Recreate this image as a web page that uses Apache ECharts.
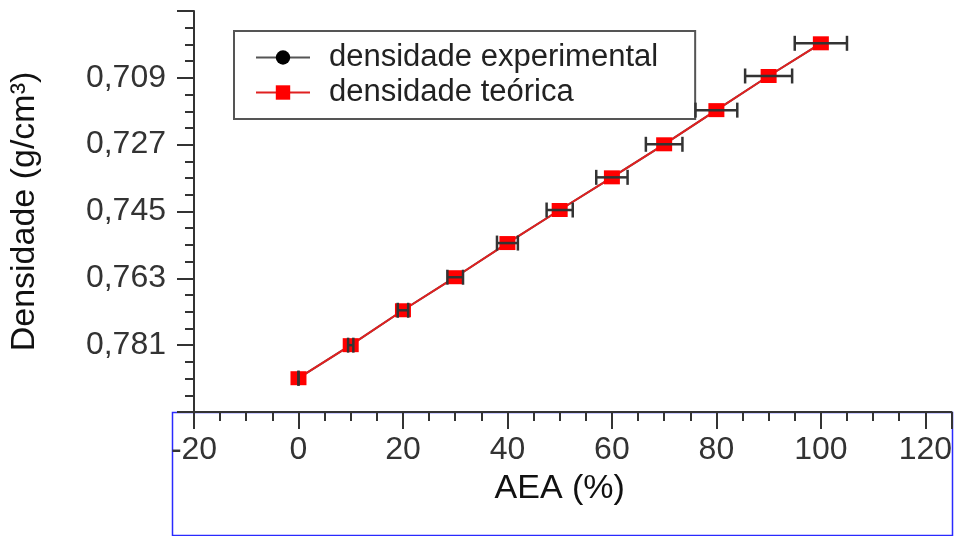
<!DOCTYPE html>
<html><head><meta charset="utf-8">
<script src="https://cdn.jsdelivr.net/npm/echarts@6/dist/echarts.min.js"></script>
<style>html,body{margin:0;padding:0;background:#fff}#c{width:955px;height:536px}</style>
</head><body><div id="c"></div>
<script>
const aea = [0, 10, 20, 30, 40, 50, 60, 70, 80, 90, 100];
const densExp = [0.7899, 0.7810, 0.7716, 0.7627, 0.7535, 0.7446, 0.7358, 0.7269, 0.7177, 0.7085, 0.6997];
const densTeo = [0.7899, 0.7810, 0.7716, 0.7627, 0.7535, 0.7446, 0.7358, 0.7269, 0.7177, 0.7085, 0.6997];
const aeaErr = [0, 0.5, 1, 1.5, 2, 2.5, 3, 3.5, 4, 4.5, 5];
const seriesNames = ['densidade experimental', 'densidade teórica'];
const yMin = 0.691, yMax = 0.799, yStep = 0.018;
const xMin = -20, xMax = 125, xStep = 20;

const FONT = 'Liberation Sans';
const chart = echarts.init(document.getElementById('c'));
const axisCol = '#333';
chart.setOption({
  animation: false,
  backgroundColor: '#fff',
  grid: { left: 193, right: 1, top: 11, bottom: 124, containLabel: false },
  graphic: [{
    type: 'rect', z: -10,
    shape: { x: 172.5, y: 412.5, width: 780, height: 123 },
    style: { fill: 'none', stroke: '#2a2aff', lineWidth: 1.5 }
  }],
  legend: {
    orient: 'vertical', left: 234, top: 31,
    data: seriesNames,
    padding: [11, 37, 11, 21],
    borderColor: '#555', borderWidth: 2, backgroundColor: '#fff',
    itemWidth: 54, itemHeight: 18, itemGap: 4,
    textStyle: { fontFamily: FONT, fontSize: 31, color: '#222', padding: [0, 0, 0, 14] }
  },
  xAxis: {
    type: 'value', min: xMin, max: xMax, interval: xStep,
    name: 'AEA (%)', nameLocation: 'middle', nameGap: 60,
    nameTextStyle: { fontFamily: FONT, fontSize: 34, color: '#111', padding: [0, 26, 0, 0] },
    axisLine: { show: true, onZero: false, lineStyle: { color: axisCol, width: 2 } },
    axisTick: { show: true, length: 17, lineStyle: { color: axisCol, width: 2 } },
    minorTick: { show: true, splitNumber: 4, length: 9, lineStyle: { color: axisCol, width: 2 } },
    splitLine: { show: false },
    axisLabel: { fontFamily: FONT, fontSize: 32, color: '#333', margin: 22, showMaxLabel: false }
  },
  yAxis: {
    type: 'value', inverse: true, min: yMin, max: yMax, interval: yStep,
    name: 'Densidade (g/cm³)', nameLocation: 'middle', nameGap: 152,
    nameTextStyle: { fontFamily: FONT, fontSize: 34, color: '#111' },
    axisLine: { show: true, onZero: false, lineStyle: { color: axisCol, width: 2 } },
    axisTick: { show: true, length: 17, lineStyle: { color: axisCol, width: 2 } },
    minorTick: { show: true, splitNumber: 4, length: 9, lineStyle: { color: axisCol, width: 2 } },
    splitLine: { show: false },
    axisLabel: {
      fontFamily: FONT, fontSize: 32, color: '#333', margin: 28,
      showMinLabel: false, showMaxLabel: false,
      formatter: v => v.toFixed(3).replace('.', ',')
    }
  },
  series: [
    {
      name: seriesNames[0], type: 'line',
      data: aea.map((x, i) => [x, densExp[i]]),
      symbol: 'circle', symbolSize: 12,
      lineStyle: { color: '#555', width: 2 },
      itemStyle: { color: '#000' },
      z: 2
    },
    {
      name: seriesNames[1], type: 'line',
      data: aea.map((x, i) => [x, densTeo[i]]),
      symbol: 'rect', symbolSize: [16, 14],
      lineStyle: { color: '#e02020', width: 2 },
      itemStyle: { color: '#ff0000' },
      z: 3
    },
    {
      name: 'erro', type: 'custom', z: 4,
      data: aea.map((x, i) => [x, densExp[i], aeaErr[i]]),
      encode: { x: 0, y: 1 },
      renderItem: (params, api) => {
        const x = api.value(0), y = api.value(1), e = api.value(2);
        const p0 = api.coord([x - e, y]), p1 = api.coord([x + e, y]);
        const h = 7.5;
        const style = { stroke: '#333', lineWidth: 2.5 };
        return { type: 'group', children: [
          { type: 'line', shape: { x1: p0[0], y1: p0[1], x2: p1[0], y2: p1[1] }, style },
          { type: 'line', shape: { x1: p0[0], y1: p0[1] - h, x2: p0[0], y2: p0[1] + h }, style },
          { type: 'line', shape: { x1: p1[0], y1: p1[1] - h, x2: p1[0], y2: p1[1] + h }, style }
        ] };
      }
    }
  ]
});
</script></body></html>
